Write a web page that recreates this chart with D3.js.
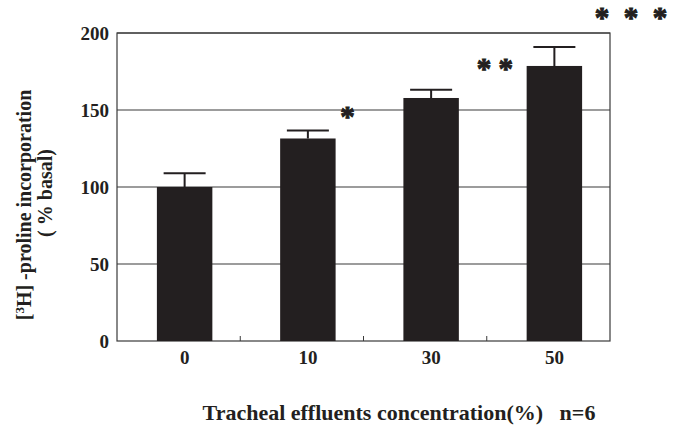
<html>
<head>
<style>
  body { margin: 0; background: #fff; }
  svg text { font-family: "Liberation Serif", "Times New Roman", serif; font-weight: bold; fill: #231f20; }
</style>
<script src="https://cdn.jsdelivr.net/npm/d3@7"></script>
</head>
<body>
<svg id="chart"></svg>
<script>
var width = 680, height = 426;

// data
var categories = ["0", "10", "30", "50"];
var means = [100, 131.5, 157.8, 178.6];
var errors = [9, 5.2, 5.4, 12.3];
var stars = ["", "*", "* *", "*  *  *"];
var starLevel = [0, 148.5, 179.7, 212.3]; // y value (axis units) at the centre of each star group
var yTicks = [0, 50, 100, 150, 200];

var margin = {left: 117, right: 70, top: 33, bottom: 85};
var plotW = width - margin.left - margin.right;
var plotH = height - margin.top - margin.bottom;

var svg = d3.select("#chart").attr("width", width).attr("height", height);
var g = svg.append("g").attr("transform", "translate(" + margin.left + "," + margin.top + ")");

var x = d3.scaleBand().domain(categories).range([0, plotW]).paddingInner(0.55).paddingOuter(0.275);
var y = d3.scaleLinear().domain([0, 200]).range([plotH, 0]);
var shift = 6; // bars sit a little right of the band centres

// gridlines
g.selectAll(".grid").data(yTicks.slice(1))
  .enter().append("line")
    .attr("x1", 0).attr("x2", plotW)
    .attr("y1", function(d) { return y(d); }).attr("y2", function(d) { return y(d); })
    .attr("stroke", "#3a3a3a").attr("stroke-width", 1.2);

// frame
g.append("rect").attr("x", 0).attr("y", 0).attr("width", plotW).attr("height", plotH)
  .attr("fill", "none").attr("stroke", "#3a3a3a").attr("stroke-width", 1.2);

// small ticks between categories
var step = plotW / categories.length;
g.selectAll(".mtick").data(d3.range(1, categories.length))
  .enter().append("line")
    .attr("x1", function(d) { return d * step; }).attr("x2", function(d) { return d * step; })
    .attr("y1", plotH).attr("y2", plotH - 5)
    .attr("stroke", "#3a3a3a");

// y tick labels
g.selectAll(".ylab").data(yTicks)
  .enter().append("text")
    .attr("x", -8).attr("y", function(d) { return y(d); })
    .attr("dy", "0.35em").attr("text-anchor", "end")
    .style("font-size", "19px")
    .text(function(d) { return d; });

// error bars
g.selectAll(".err").data(categories)
  .enter().append("path")
    .attr("d", function(d, i) {
      var cx = x(d) + x.bandwidth() / 2 + shift;
      var top = y(means[i] + errors[i]);
      return "M" + cx + "," + y(means[i]) + "V" + top + "M" + (cx - 21) + "," + top + "H" + (cx + 21);
    })
    .attr("stroke", "#231f20").attr("stroke-width", 2).attr("fill", "none");

// bars
g.selectAll(".bar").data(categories)
  .enter().append("rect")
    .attr("x", function(d) { return x(d) + shift; })
    .attr("y", function(d, i) { return y(means[i]); })
    .attr("width", x.bandwidth())
    .attr("height", function(d, i) { return plotH - y(means[i]); })
    .attr("fill", "#231f20");

// x tick labels
g.selectAll(".xlab").data(categories)
  .enter().append("text")
    .attr("x", function(d) { return x(d) + x.bandwidth() / 2 + shift; })
    .attr("y", plotH + 23)
    .attr("text-anchor", "middle")
    .style("font-size", "19px")
    .text(function(d) { return d; });

// significance stars
var starOffset = [0, 12, 36, 49];
g.selectAll(".star").data(categories)
  .enter().append("text")
    .attr("x", function(d, i) { return x(d) + x.bandwidth() + shift + starOffset[i]; })
    .attr("y", function(d, i) { return y(starLevel[i]); })
    .attr("dy", "0.46em")
    .attr("text-anchor", "middle")
    .attr("xml:space", "preserve")
    .attr("stroke", "#231f20").attr("stroke-width", 1)
    .style("font-size", "29px")
    .text(function(d, i) { return stars[i]; });

// y axis title
var yt = svg.append("text")
  .attr("transform", "translate(31,205) rotate(-90)")
  .attr("text-anchor", "middle")
  .style("font-size", "20px");
yt.append("tspan").text("[");
yt.append("tspan").attr("baseline-shift", "super").style("font-size", "13px").text("3");
yt.append("tspan").text("H] -proline incorporation");
svg.append("text")
  .attr("transform", "translate(52,193) rotate(-90)")
  .attr("text-anchor", "middle")
  .style("font-size", "20px")
  .text("( % basal)");

// x axis title
svg.append("text")
  .attr("x", 399).attr("y", 420)
  .attr("text-anchor", "middle")
  .attr("xml:space", "preserve")
  .style("font-size", "22px")
  .text("Tracheal effluents concentration(%)   n=6");
</script>
</body>
</html>
